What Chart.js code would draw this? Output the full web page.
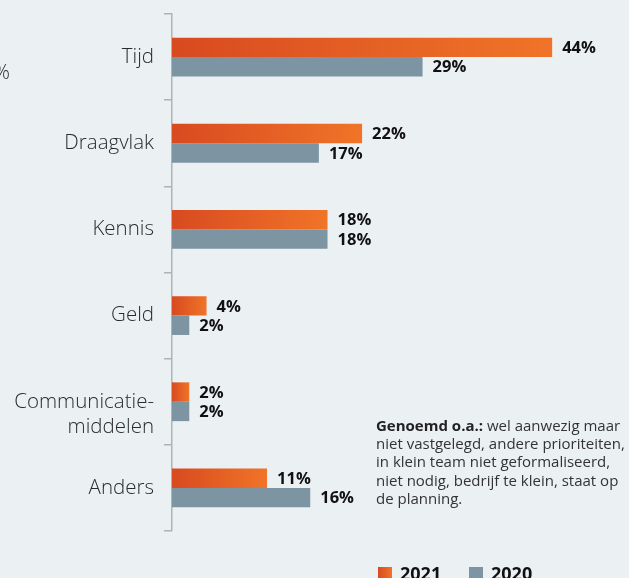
<!DOCTYPE html>
<html lang="nl">
<head>
<meta charset="utf-8">
<title>Redenen</title>
<script src="https://cdn.jsdelivr.net/npm/chart.js@4.4.1/dist/chart.umd.min.js"></script>
<style>
    html, body { margin: 0; padding: 0; background: #ebf0f3; }
    #wrap { position: relative; width: 629px; height: 578px; overflow: hidden; }
</style>
</head>
<body>
<div id="wrap"><canvas id="reasonsChart" width="629" height="578"></canvas></div>
<script>
// Categories and values per year
const categories = ['Tijd', 'Draagvlak', 'Kennis', 'Geld', ['Communicatie-', 'middelen'], 'Anders'];
const years = ['2021', '2020'];
const values2021 = [44, 22, 18, 4, 2, 11];
const values2020 = [29, 17, 18, 2, 2, 16];

const noteBold = 'Genoemd o.a.:';
const noteLines = [
    ' wel aanwezig maar',
    'niet vastgelegd, andere prioriteiten,',
    'in klein team niet geformaliseerd,',
    'niet nodig, bedrijf te klein, staat op',
    'de planning.'
];

const ORANGE_DARK = '#d84a20';
const ORANGE_LIGHT = '#f07428';
const GREY = '#7d95a2';
const FONT = "'Open Sans', 'Lato', sans-serif";

document.addEventListener('DOMContentLoaded', () => {

    // Orange bars fade from red-orange at zero to orange at the bar end
    function orangeFill(context) {
        const chart = context.chart;
        if (!chart.chartArea || context.type !== 'data') return ORANGE_LIGHT;
        const x = chart.scales.x;
        const x0 = x.getPixelForValue(0);
        const x1 = x.getPixelForValue(context.raw);
        if (!isFinite(x0) || !isFinite(x1) || x1 <= x0) return ORANGE_LIGHT;
        const g = chart.ctx.createLinearGradient(x0, 0, x1, 0);
        g.addColorStop(0, ORANGE_DARK);
        g.addColorStop(1, ORANGE_LIGHT);
        return g;
    }

    // Value labels right of each bar
    const valueLabels = {
        id: 'valueLabels',
        afterDatasetsDraw(chart) {
            const ctx = chart.ctx;
            ctx.save();
            ctx.font = `700 16.5px ${FONT}`;
            ctx.fillStyle = '#111';
            ctx.textAlign = 'left';
            ctx.textBaseline = 'middle';
            chart.data.datasets.forEach((ds, i) => {
                chart.getDatasetMeta(i).data.forEach((bar, j) => {
                    ctx.fillText(ds.data[j] + '%', bar.x + 10, bar.y + 1);
                });
            });
            ctx.restore();
        }
    };

    // Note text, legend and the stray percent sign at the left edge
    const extras = {
        id: 'extras',
        afterDraw(chart) {
            const ctx = chart.ctx;
            ctx.save();

            ctx.font = `300 20px ${FONT}`;
            ctx.fillStyle = '#2b2b2b';
            ctx.textAlign = 'right';
            ctx.textBaseline = 'alphabetic';
            ctx.fillText('%', 10, 79);

            // note
            const nx = 376, ny = 430.5, lh = 18.4;
            ctx.textAlign = 'left';
            ctx.font = `700 15px ${FONT}`;
            ctx.fillStyle = '#222';
            ctx.fillText(noteBold, nx, ny);
            const bw = ctx.measureText(noteBold).width;
            ctx.font = `400 15px ${FONT}`;
            ctx.fillStyle = '#333';
            noteLines.forEach((line, i) => {
                ctx.fillText(line, i === 0 ? nx + bw : nx, ny + i * lh);
            });

            // legend
            const items = [
                { label: years[0], x: 378, gradient: true },
                { label: years[1], x: 469, gradient: false }
            ];
            ctx.font = `700 18px ${FONT}`;
            items.forEach(it => {
                if (it.gradient) {
                    const g = ctx.createLinearGradient(it.x, 0, it.x + 14, 0);
                    g.addColorStop(0, ORANGE_DARK);
                    g.addColorStop(1, ORANGE_LIGHT);
                    ctx.fillStyle = g;
                } else {
                    ctx.fillStyle = GREY;
                }
                ctx.fillRect(it.x, 567, 14, 14);
                ctx.fillStyle = '#111';
                ctx.fillText(it.label, it.x + 22, 580);
            });

            ctx.restore();
        }
    };

    const ctx = document.getElementById('reasonsChart').getContext('2d');
    new Chart(ctx, {
        type: 'bar',
        data: {
            labels: categories,
            datasets: [
                { label: years[0], data: values2021, backgroundColor: orangeFill },
                { label: years[1], data: values2020, backgroundColor: GREY }
            ]
        },
        options: {
            indexAxis: 'y',
            responsive: false,
            animation: false,
            layout: { padding: { top: 14, bottom: 47, left: 0, right: 25 } },
            datasets: {
                bar: { categoryPercentage: 0.45, barPercentage: 1, borderWidth: 0 }
            },
            plugins: {
                legend: { display: false },
                tooltip: { enabled: false }
            },
            scales: {
                x: { display: false, min: 0, max: 50 },
                y: {
                    offset: true,
                    afterFit: (scale) => {
                        scale.width = 172;
                        scale.paddingTop = 0;
                        scale.paddingBottom = 0;
                    },
                    border: { display: true, color: '#aeb3b6', width: 1.5 },
                    grid: {
                        offset: true,
                        drawOnChartArea: false,
                        drawTicks: true,
                        tickLength: 8,
                        color: '#aeb3b6',
                        lineWidth: 1.5
                    },
                    ticks: {
                        padding: 10,
                        color: '#2b2b2b',
                        font: { family: FONT, size: 20.5, weight: '300', lineHeight: 1.25 },
                        // multi-line label sits with its first line on the bar centre
                        callback: function(value, index) {
                            const lbl = categories[index];
                            return Array.isArray(lbl) ? ['', ...lbl] : lbl;
                        }
                    }
                }
            }
        },
        plugins: [valueLabels, extras]
    });
});
</script>
</body>
</html>
